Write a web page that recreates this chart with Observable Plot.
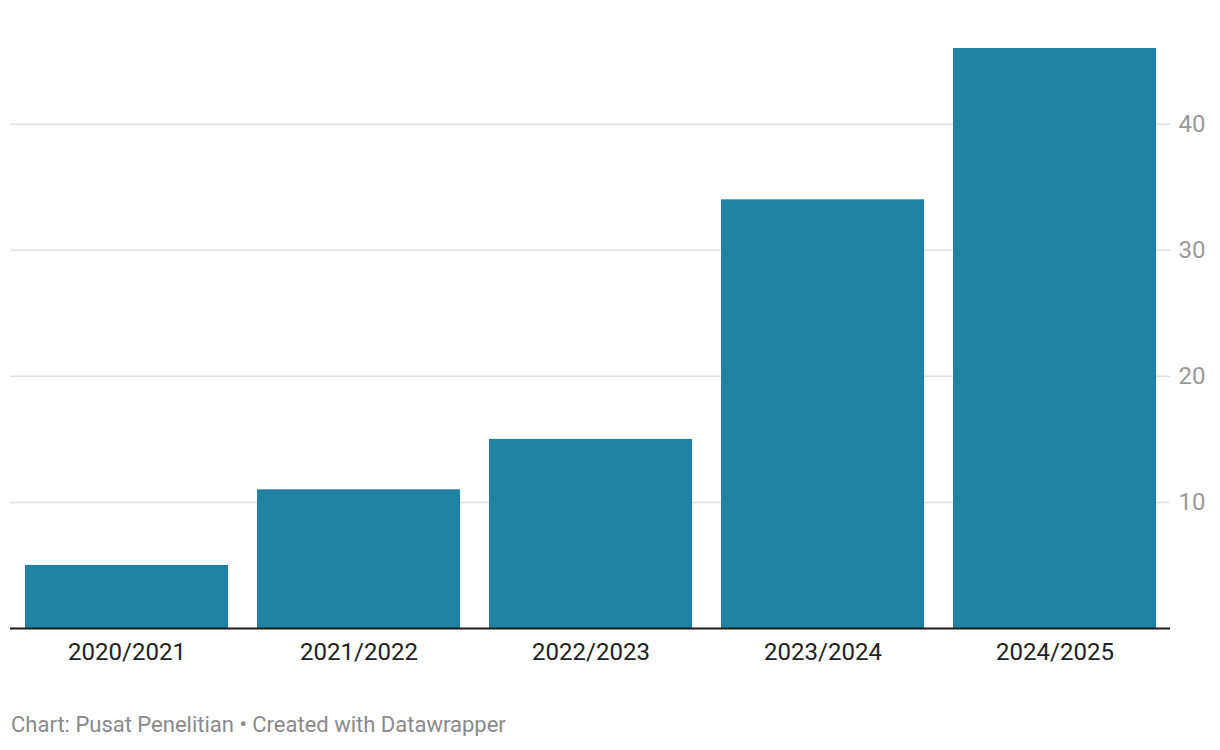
<!DOCTYPE html>
<html>
<head>
<meta charset="utf-8">
<script src="https://cdn.jsdelivr.net/npm/d3@7"></script>
<script src="https://cdn.jsdelivr.net/npm/@observablehq/plot@0.6"></script>
<style>
  html, body { margin: 0; padding: 0; background: #fff; }
  body { font-family: Roboto, "Noto Sans", sans-serif; }
  #chart { position: relative; width: 1220px; }
  .caption { font-family: Roboto, sans-serif; font-size: 22px; color: #8a8a8a; margin: 34px 0 0 11px; line-height: 1; }
</style>
</head>
<body>
<div id="chart"></div>
<div class="caption">Chart: Pusat Penelitian • Created with Datawrapper</div>
<script>
const categories = ["2020/2021", "2021/2022", "2022/2023", "2023/2024", "2024/2025"];
const values = [5, 11, 15, 34, 46];
const yTicks = [10, 20, 30, 40];

const data = categories.map((c, i) => ({ category: c, value: values[i] }));

const plot = Plot.plot({
  width: 1220,
  height: 680,
  marginLeft: 10,
  marginRight: 50,
  marginTop: 48,
  marginBottom: 52,
  style: { fontFamily: "Roboto, sans-serif", background: "#fff" },
  x: { domain: categories, paddingInner: 0.125, paddingOuter: 0.0625, label: null },
  y: { domain: [0, 46], label: null },
  marks: [
    Plot.gridY(yTicks, { stroke: "#e2e2e2", strokeOpacity: 1, strokeWidth: 1.5 }),
    Plot.barY(data, { x: "category", y: "value", fill: "#1f81a3" }),
    Plot.ruleY([0], { stroke: "#1a1a1a", strokeWidth: 2 }),
    Plot.axisY(yTicks, { anchor: "right", tickSize: 0, tickPadding: 8, fontSize: 24, fill: "#9a9a9a", label: null }),
    Plot.axisX({ tickSize: 0, tickPadding: 14, fontSize: 24, fill: "#222", label: null })
  ]
});
document.getElementById("chart").appendChild(plot);
</script>
</body>
</html>
